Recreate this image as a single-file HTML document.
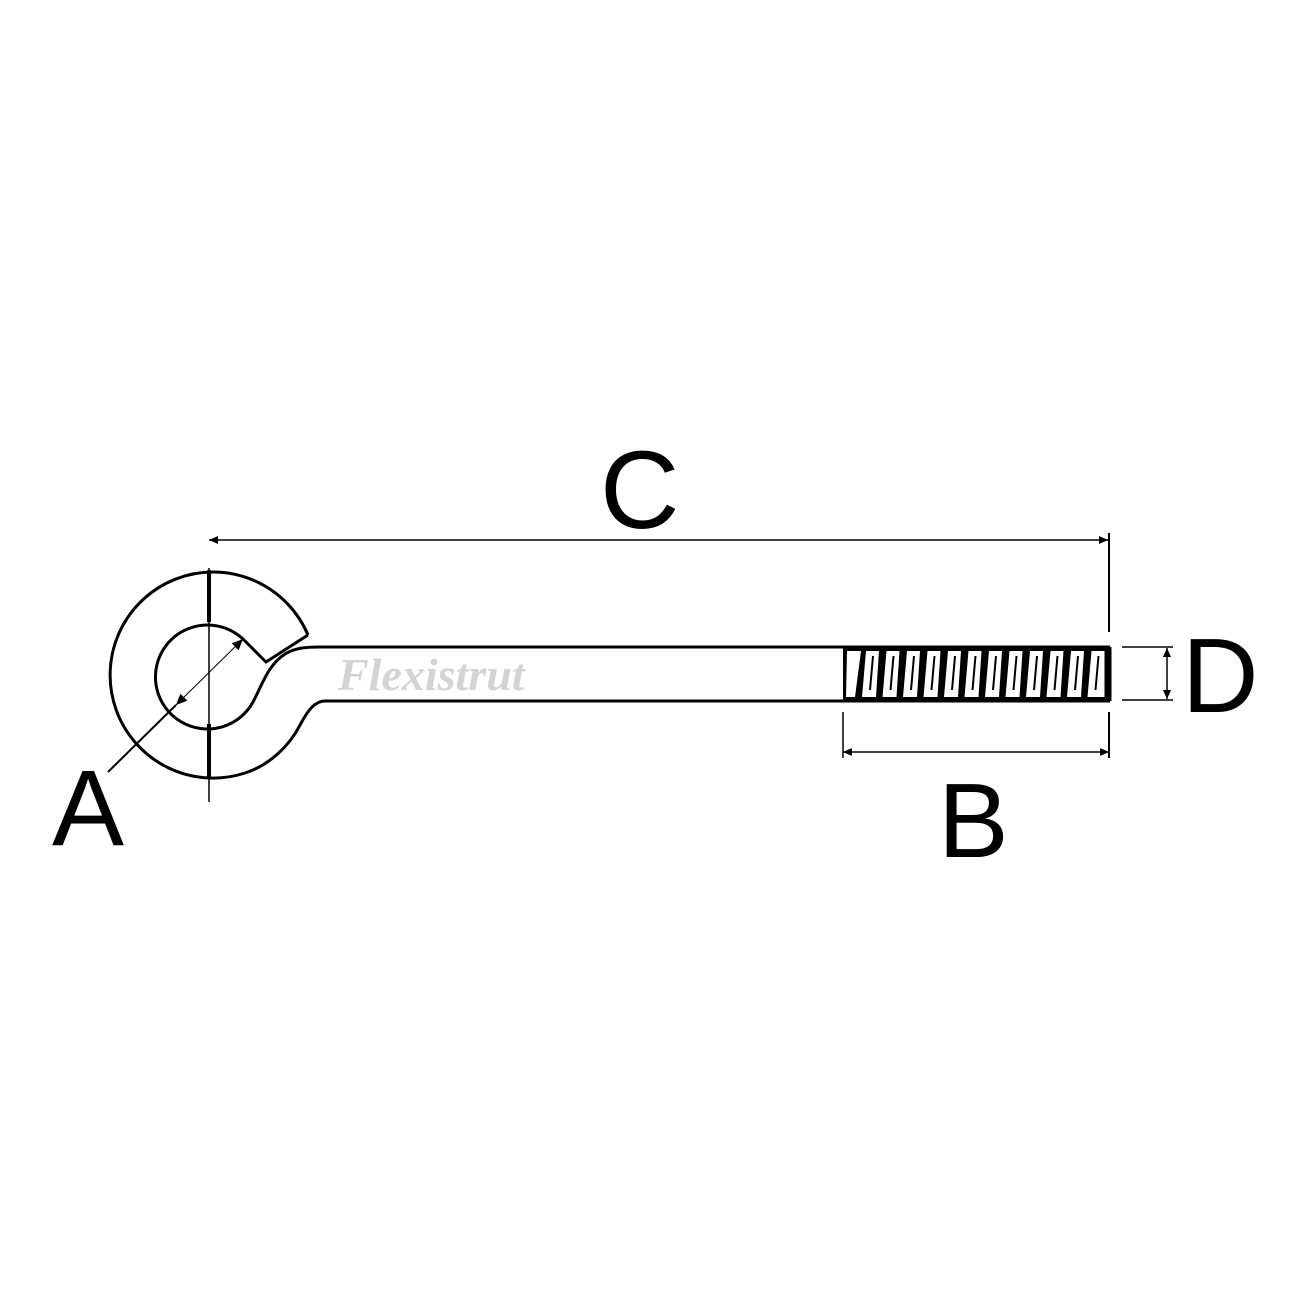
<!DOCTYPE html>
<html><head><meta charset="utf-8"><style>
html,body{margin:0;padding:0;background:#fff;}
svg{display:block;}
</style></head><body>
<svg width="1300" height="1300" viewBox="0 0 1300 1300" xmlns="http://www.w3.org/2000/svg">
<defs>
<marker id="ar" viewBox="0 0 10 10" refX="10" refY="5" markerWidth="12" markerHeight="9" markerUnits="userSpaceOnUse" orient="auto-start-reverse"><path d="M0,0.5 L10,5 L0,9.5 z" fill="#000"/></marker>
<marker id="ar2" viewBox="0 0 10 10" refX="10" refY="5" markerWidth="16" markerHeight="11" markerUnits="userSpaceOnUse" orient="auto-start-reverse"><path d="M0,0.5 L10,5 L0,9.5 z" fill="#000"/></marker>
</defs>
<!-- centerline -->
<line x1="209" y1="568" x2="209" y2="802" stroke="#000" stroke-width="1.5"/>
<line x1="209" y1="570" x2="209" y2="622" stroke="#000" stroke-width="4"/>
<line x1="209" y1="724" x2="209" y2="778" stroke="#000" stroke-width="4"/>
<g fill="none" stroke="#000" stroke-width="3">
<path d="M308,635 A103,103 0 1 0 245,773"/>
<path d="M245,773 C270,765 290,745 300,725 C308,710 315,701 325,701 L1110,701"/>
<path d="M308,635 L266,662 L244,640"/>
<path d="M244,640 A52,52 0 1 0 255,698"/>
<path d="M255,698 C262,685 268,665 285,654 C295,648 305,647 320,647 L1110,647"/>
<line x1="1110" y1="647" x2="1110" y2="701"/>
</g>
<!-- threads -->
<rect x="843" y="647" width="267" height="54" fill="#000"/>
<g fill="#fff">
<path d="M847,651 L861,651 L855,697 L846,697 Z"/>
<path d="M866,651 L879,651 L876,697 L862,697 Z"/>
<path d="M886.5,651 L899.5,651 L896.5,697 L882.5,697 Z"/>
<path d="M907,651 L920,651 L917,697 L903,697 Z"/>
<path d="M927.5,651 L940.5,651 L937.5,697 L923.5,697 Z"/>
<path d="M948,651 L961,651 L958,697 L944,697 Z"/>
<path d="M968.5,651 L981.5,651 L978.5,697 L964.5,697 Z"/>
<path d="M989,651 L1002,651 L999,697 L985,697 Z"/>
<path d="M1009.5,651 L1022.5,651 L1019.5,697 L1005.5,697 Z"/>
<path d="M1030,651 L1043,651 L1040,697 L1026,697 Z"/>
<path d="M1050.5,651 L1063.5,651 L1060.5,697 L1046.5,697 Z"/>
<path d="M1071,651 L1084,651 L1081,697 L1067,697 Z"/>
<path d="M1091.5,651 L1104.5,651 L1104.5,697 L1087.5,697 Z"/>
</g>
<g fill="#000">
<path d="M872,656 L874,656 L871,690 L869,690 Z"/>
<path d="M892.5,656 L894.5,656 L891.5,690 L889.5,690 Z"/>
<path d="M913,656 L915,656 L912,690 L910,690 Z"/>
<path d="M933.5,656 L935.5,656 L932.5,690 L930.5,690 Z"/>
<path d="M954,656 L956,656 L953,690 L951,690 Z"/>
<path d="M974.5,656 L976.5,656 L973.5,690 L971.5,690 Z"/>
<path d="M995,656 L997,656 L994,690 L992,690 Z"/>
<path d="M1015.5,656 L1017.5,656 L1014.5,690 L1012.5,690 Z"/>
<path d="M1036,656 L1038,656 L1035,690 L1033,690 Z"/>
<path d="M1056.5,656 L1058.5,656 L1055.5,690 L1053.5,690 Z"/>
<path d="M1077,656 L1079,656 L1076,690 L1074,690 Z"/>
<path d="M1097.5,656 L1099.5,656 L1096.5,690 L1094.5,690 Z"/>
</g>
<!-- watermark -->
<text x="338" y="690" style="font-family:'Liberation Serif',serif;font-style:italic;font-weight:bold;font-size:46px" fill="#d3d3d3">Flexistrut</text>
<g style="font-family:'Liberation Sans',sans-serif">
<line x1="209" y1="540" x2="1108" y2="540" stroke="#000" stroke-width="1.5" marker-start="url(#ar)" marker-end="url(#ar)"/>
<line x1="1109" y1="533" x2="1109" y2="632" stroke="#000" stroke-width="2"/>
<text x="600" y="528" font-size="110">C</text>
<line x1="843" y1="712" x2="843" y2="758" stroke="#000" stroke-width="1.5"/>
<line x1="1109" y1="712" x2="1109" y2="758" stroke="#000" stroke-width="2"/>
<line x1="843" y1="752" x2="1109" y2="752" stroke="#000" stroke-width="1.5" marker-start="url(#ar)" marker-end="url(#ar)"/>
<text x="938" y="857" font-size="106">B</text>
<line x1="1122" y1="647" x2="1173" y2="647" stroke="#000" stroke-width="1.5"/>
<line x1="1122" y1="700" x2="1173" y2="700" stroke="#000" stroke-width="1.5"/>
<line x1="1167" y1="648" x2="1167" y2="699" stroke="#000" stroke-width="1.5" marker-start="url(#ar)" marker-end="url(#ar)"/>
<text x="1182" y="712" font-size="106">D</text>
<line x1="108" y1="772" x2="176" y2="705" stroke="#000" stroke-width="2"/>
<line x1="176" y1="705" x2="243" y2="639" stroke="#000" stroke-width="1" marker-start="url(#ar2)" marker-end="url(#ar2)"/>
<text x="52" y="845" font-size="108">A</text>
</g>
</svg>
</body></html>
